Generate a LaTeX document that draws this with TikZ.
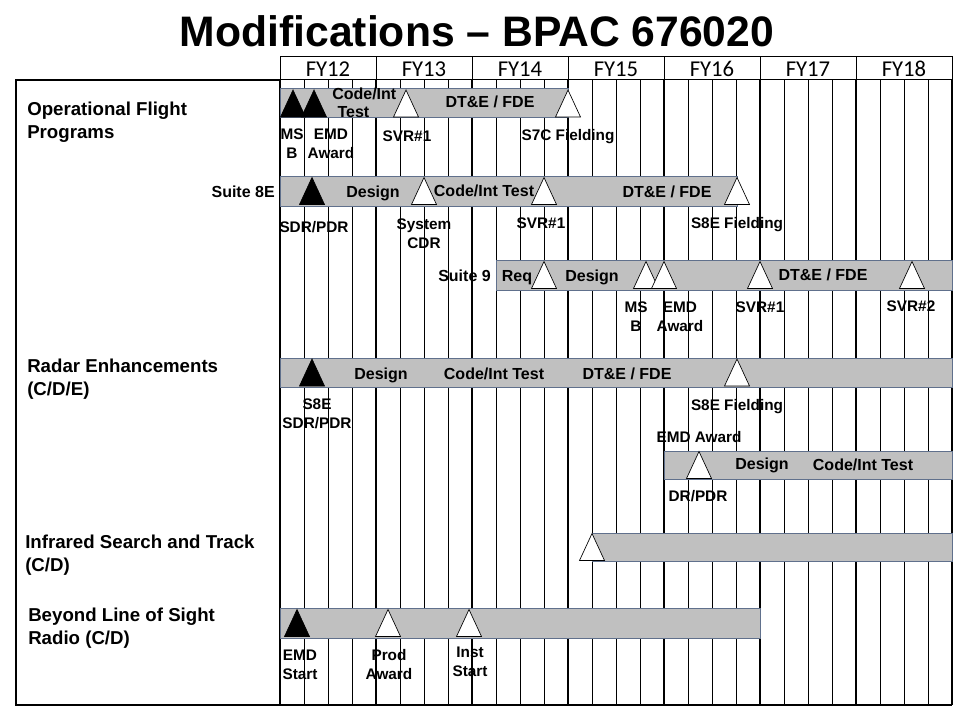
\documentclass[tikz,border=0pt]{standalone}
\usepackage{fontspec}
\setmainfont{Liberation Sans}
\newfontfamily\fyfont{Carlito}
\usetikzlibrary{positioning}
\definecolor{barfill}{RGB}{192,192,192}
\definecolor{barline}{RGB}{96,112,140}

\begin{document}
\begin{tikzpicture}[
		x=0.75pt, y=-0.75pt,
		bar/.style={fill=barfill, draw=barline, line width=0.6pt},
		row/.style={anchor=west, align=left, inner sep=0pt, font=\bfseries\fontsize{14}{17.25}\selectfont},
		task/.style={inner sep=0pt, text height=8.6pt, text depth=0pt, font=\bfseries\fontsize{12}{13.5}\selectfont},
		task2/.style={inner sep=0pt, align=left, font=\bfseries\fontsize{12}{13.5}\selectfont},
		mlabel/.style={inner sep=0pt, text height=8.23pt, text depth=0pt, font=\bfseries\fontsize{11.5}{14.25}\selectfont},
		mlabel2/.style={inner sep=0pt, align=center, font=\bfseries\fontsize{11.5}{14.25}\selectfont},
		fy/.style={inner sep=0pt, text height=10.95pt, text depth=0pt, font=\fyfont\fontsize{17}{19}\selectfont},
		qline/.style={line width=0.75pt},
		yline/.style={line width=1.6pt}
		]
		
		\useasboundingbox (0,0) rectangle (960,720);
		
		% Title
		\node[inner sep=0pt, text height=22.9pt, text depth=0pt, font=\bfseries\fontsize{32}{36}\selectfont] (title) at (477,31) {Modifications – BPAC 676020};
		
		% Grid: quarters and fiscal years
		\foreach \q in {0,...,28}
			\draw[qline] (280+24*\q,80) -- (280+24*\q,705);
		\foreach \q in {0,4,...,28}
			\draw[yline] (280+24*\q,80) -- (280+24*\q,705);
		\draw[qline] (280,57) rectangle (952,80);
		\foreach \q in {1,...,6}
			\draw[qline] (280+96*\q,57) -- (280+96*\q,80);
		\foreach \yr [count=\i from 0] in {12,...,18}
			\node[fy] (fy\yr) at (328+96*\i,69.5) {FY\yr};
		\draw[line width=1pt] (16,80) rectangle (280,705);
		\draw[line width=1pt] (280,705) -- (952,705);
		
		% Bars
		\draw[bar] (280,88) rectangle (568,117);
		\draw[bar] (280,176) rectangle (737,206);
		\draw[bar] (496,260) rectangle (952,290);
		\draw[bar] (280,358) rectangle (952,387);
		\draw[bar] (664,451) rectangle (952,479);
		\draw[bar] (592,533) rectangle (952,561);
		\draw[bar] (280,608) rectangle (760,638);
		
		% Milestones (apex x, centre y, fill)
		\foreach \mx/\my/\mc in {293/103.5/black, 314/103.5/black, 406/103.5/white, 568/103.5/white,
				312/191/black, 424/191/white, 544/191/white, 737/191/white,
				544/275/white, 646/275/white, 664/275/white, 760/275/white, 912/275/white,
				312/372.5/black, 737/372.5/white,
				699/465/white,
				592/547/white,
				297/623/black, 388/623/white, 469/623/white}
			\filldraw[fill=\mc, draw=black, line width=0.5pt] (\mx-12.5,\my+13.5) -- (\mx,\my-13.5) -- (\mx+12.5,\my+13.5) -- cycle;
		
		% Programme names
		\node[row] (ofp) at (27,122.5) {Operational Flight\\Programs};
		\node[row] (radar) at (27,379) {Radar Enhancements\\(C/D/E)};
		\node[row] (irst) at (25,555.5) {Infrared Search and Track\\(C/D)};
		\node[row] (blos) at (28,628) {Beyond Line of Sight\\Radio (C/D)};
		\node[task, anchor=east] (s8e) at (275,191.5) {Suite 8E};
		\node[task, anchor=east] (s9) at (491,276) {Suite 9};
		
		% Phases inside the bars
		\node[task2, anchor=west] (ofpcode) at (332,103) {Code/Int\\\hspace{4pt}Test};
		\node[task] (ofpdte) at (490,102) {DT\&E / FDE};
		\node[task] (s8edes) at (373,191.5) {Design};
		\node[task] (s8ecode) at (484,191) {Code/Int Test};
		\node[task] (s8edte) at (667,192) {DT\&E / FDE};
		\node[task] (s9req) at (517,276) {Req};
		\node[task] (s9des) at (592,276) {Design};
		\node[task] (s9dte) at (823,275) {DT\&E / FDE};
		\node[task] (raddes) at (381,373.5) {Design};
		\node[task] (radcode) at (494,373.5) {Code/Int Test};
		\node[task] (raddte) at (627,373.5) {DT\&E / FDE};
		\node[task] (emddes) at (762,464) {Design};
		\node[task] (emdcode) at (863,465) {Code/Int Test};
		
		% Milestone labels
		\node[mlabel2] (ofpmsb) at (292,144) {MS\\B};
		\node[mlabel2] (ofpemd) at (331,144) {EMD\\Award};
		\node[mlabel] (ofpsvr) at (407,136) {SVR\#1};
		\node[mlabel] (s7cfld) at (568,135) {S7C Fielding};
		\node[mlabel] (s8esdr) at (314,227) {SDR/PDR};
		\node[mlabel2] (s8ecdr) at (424,233.5) {System\\CDR};
		\node[mlabel] (s8esvr) at (541,223) {SVR\#1};
		\node[mlabel] (s8efld) at (737,223) {S8E Fielding};
		\node[mlabel2] (s9msb) at (636,317) {MS\\B};
		\node[mlabel2] (s9emd) at (680,317) {EMD\\Award};
		\node[mlabel] (s9svra) at (760,307) {SVR\#1};
		\node[mlabel] (s9svrb) at (911,306) {SVR\#2};
		\node[mlabel2] (radsdr) at (317,414) {S8E\\SDR/PDR};
		\node[mlabel] (radfld) at (737,405) {S8E Fielding};
		\node[mlabel] (rademd) at (699,437) {EMD Award};
		\node[mlabel] (raddr) at (698,496.5) {DR/PDR};
		\node[mlabel2] (blosemd) at (300,664.5) {EMD\\Start};
		\node[mlabel2] (blosprod) at (389,664.5) {Prod\\Award};
		\node[mlabel2] (blosinst) at (470,662) {Inst\\Start};
		
	\end{tikzpicture}
\end{document}
